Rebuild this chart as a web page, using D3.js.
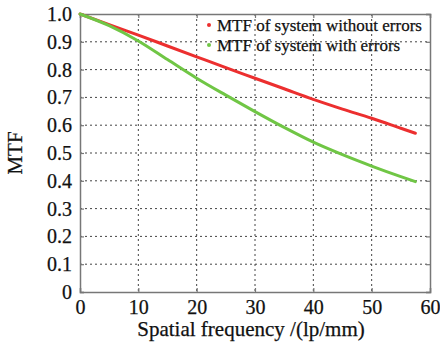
<!DOCTYPE html>
<html>
<head>
<meta charset="utf-8">
<script src="https://cdn.jsdelivr.net/npm/d3@7"></script>
<style>
  body { margin: 0; background: #fff; }
  svg text { font-family: "Liberation Serif", "Times New Roman", serif; fill: #111; stroke: #111; stroke-width: 0.25px; }
</style>
</head>
<body>
<div id="chart"></div>
<script>
// spatial frequency samples (lp/mm)
const freq = [0, 5, 10, 15, 20, 25, 30, 35, 40, 45, 50, 55, 57.5];
// MTF of system without errors
const mtfNoErr = [1.0, 0.962, 0.924, 0.885, 0.846, 0.807, 0.769, 0.731, 0.693, 0.658, 0.625, 0.589, 0.571];
// MTF of system with errors
const mtfErr = [1.0, 0.958, 0.903, 0.836, 0.769, 0.708, 0.649, 0.592, 0.539, 0.494, 0.453, 0.415, 0.397];

const xTicks = [0, 10, 20, 30, 40, 50, 60];
const yTicks = [0, 0.1, 0.2, 0.3, 0.4, 0.5, 0.6, 0.7, 0.8, 0.9, 1.0];
const seriesNames = ['MTF of system without errors', 'MTF of system with errors'];
const seriesColors = ['#ec2f2f', '#70c645'];

const svgWidth = 440, svgHeight = 345,
  margin = { top: 14, right: 10, bottom: 53, left: 80 },
  width = svgWidth - margin.left - margin.right,
  height = svgHeight - margin.top - margin.bottom;

const svg = d3.select('#chart').append('svg')
  .attr('width', svgWidth)
  .attr('height', svgHeight);

const g = svg.append('g').attr('transform', 'translate(' + margin.left + ',' + margin.top + ')');

const x = d3.scaleLinear().domain([0, 60]).range([0, width]);
const y = d3.scaleLinear().domain([0, 1]).range([height, 0]);

g.append('rect')
  .attr('width', width)
  .attr('height', height)
  .attr('fill', '#fff');

// dotted grid
g.append('g').selectAll('line')
  .data(xTicks.slice(1, -1))
  .enter().append('line')
  .attr('x1', d => x(d)).attr('x2', d => x(d))
  .attr('y1', 0).attr('y2', height)
  .attr('stroke', '#444').attr('stroke-width', 1)
  .attr('stroke-dasharray', '2,3');

g.append('g').selectAll('line')
  .data(yTicks.slice(1, -1))
  .enter().append('line')
  .attr('y1', d => y(d)).attr('y2', d => y(d))
  .attr('x1', 0).attr('x2', width)
  .attr('stroke', '#444').attr('stroke-width', 1)
  .attr('stroke-dasharray', '2,3');

// axes, ticks pointing inward on every side
const axBottom = g.append('g')
  .attr('transform', 'translate(0,' + height + ')')
  .call(d3.axisBottom(x).tickValues(xTicks).tickSize(-4).tickPadding(8).tickFormat(d3.format('d')));
const axLeft = g.append('g')
  .call(d3.axisLeft(y).tickValues(yTicks).tickSize(-4).tickPadding(8)
    .tickFormat(d => d === 0 ? '0' : d3.format('.1f')(d)));
const axTop = g.append('g')
  .call(d3.axisTop(x).tickValues(xTicks).tickSize(-4).tickFormat(''));
const axRight = g.append('g')
  .attr('transform', 'translate(' + width + ',0)')
  .call(d3.axisRight(y).tickValues(yTicks).tickSize(-4).tickFormat(''));

[axBottom, axLeft, axTop, axRight].forEach(a => {
  a.attr('font-family', null).attr('font-size', null);
  a.select('.domain').attr('stroke', '#777').attr('stroke-width', 1.5);
  a.selectAll('.tick line').attr('stroke', '#777').attr('stroke-width', 1.2);
  a.selectAll('text')
    .style('font-family', '"Liberation Serif", serif')
    .style('font-size', '20px')
    .attr('fill', '#111');
});

// curves
const line = d3.line()
  .x(d => x(d[0]))
  .y(d => y(d[1]))
  .curve(d3.curveMonotoneX);

[mtfNoErr, mtfErr].forEach((vals, i) => {
  g.append('path')
    .datum(freq.map((f, j) => [f, vals[j]]))
    .attr('fill', 'none')
    .attr('stroke', seriesColors[i])
    .attr('stroke-width', 3)
    .attr('stroke-linecap', 'round')
    .attr('d', line);
});

// legend
const legend = g.append('g')
  .attr('transform', 'translate(129,11)')
  .selectAll('g')
  .data(seriesNames)
  .enter().append('g')
  .attr('transform', (d, i) => 'translate(0,' + i * 20 + ')');

legend.append('circle')
  .attr('r', 2)
  .attr('fill', (d, i) => seriesColors[i]);

legend.append('text')
  .attr('x', 8)
  .attr('dy', '0.35em')
  .style('font-size', '17px')
  .text(d => d);

// axis titles
svg.append('text')
  .attr('x', margin.left + width / 2 - 4)
  .attr('y', 336)
  .attr('text-anchor', 'middle')
  .style('font-size', '21px')
  .text('Spatial frequency /(lp/mm)');

svg.append('text')
  .attr('transform', 'translate(22,' + (margin.top + height / 2) + ') rotate(-90)')
  .attr('text-anchor', 'middle')
  .style('font-size', '21px')
  .text('MTF');
</script>
</body>
</html>
